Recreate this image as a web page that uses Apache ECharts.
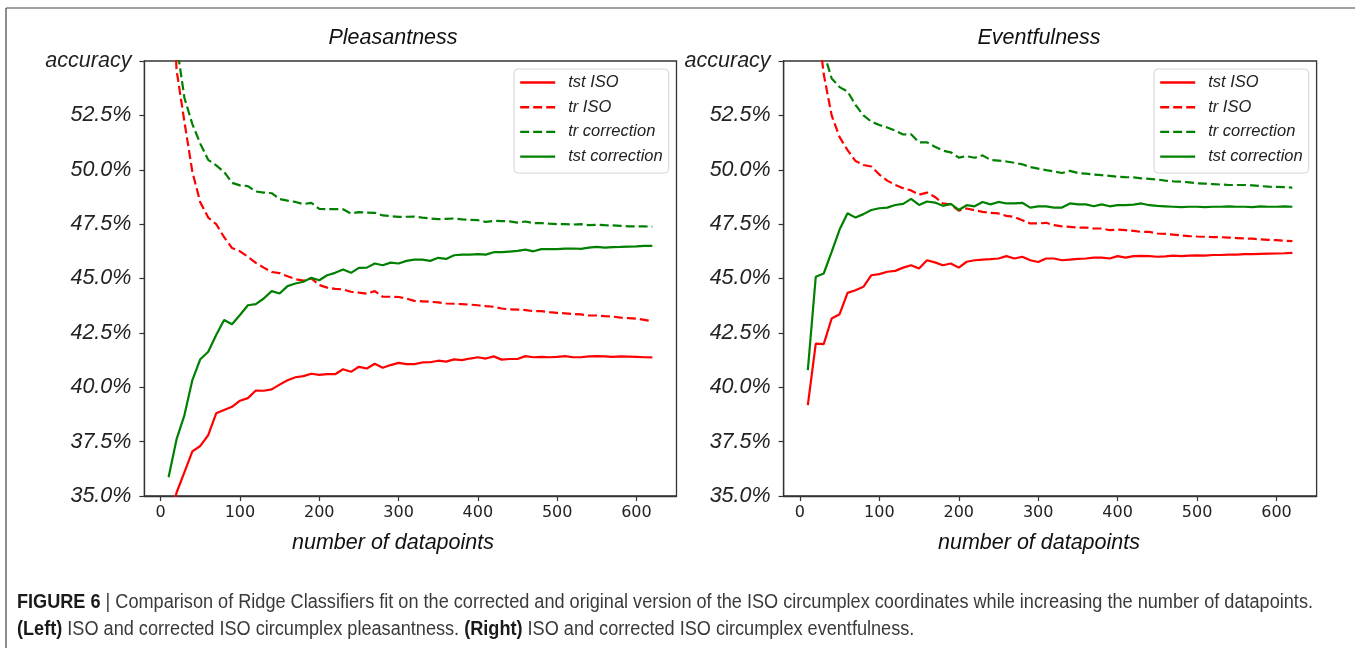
<!DOCTYPE html>
<html><head><meta charset="utf-8">
<script src="https://cdn.jsdelivr.net/npm/echarts@6/dist/echarts.min.js"></script>
<style>html,body{margin:0;padding:0;background:#fff}#c{width:1355px;height:648px}</style>
</head><body><div id="c"></div>
<script>
// ---------------- DATA ----------------
const datapoints = [10,20,30,40,50,60,70,80,90,100,110,120,130,140,150,160,170,180,190,200,
  210,220,230,240,250,260,270,280,290,300,310,320,330,340,350,360,370,380,390,400,
  410,420,430,440,450,460,470,480,490,500,510,520,530,540,550,560,570,580,590,600,610,620];
const xTickValues = [0,100,200,300,400,500,600];
const yTickValues = [35,37.5,40,42.5,45,47.5,50,52.5,55];
const seriesNames = ['tst ISO','tr ISO','tr correction','tst correction'];
const panelTitles = ['Pleasantness','Eventfulness'];

// Pleasantness (left)
const pleasTstISO = [33.5,35.15,36.1,37.05,37.3,37.8,38.8,38.95,39.1,39.38,39.5,39.85,39.84,39.9,40.12,40.32,40.46,40.51,40.62,40.57,
  40.6,40.6,40.83,40.71,40.94,40.86,41.08,40.9,41.02,41.12,41.06,41.06,41.14,41.15,41.22,41.18,41.28,41.25,41.32,41.38,
  41.32,41.42,41.27,41.3,41.3,41.43,41.38,41.4,41.38,41.4,41.43,41.38,41.38,41.42,41.43,41.42,41.4,41.42,41.41,41.4,41.38,41.37];
const pleasTrISO = [64,54.6,52.2,49.9,48.5,47.8,47.5,46.9,46.4,46.25,46.0,45.72,45.5,45.3,45.25,45.1,44.97,44.9,45.0,44.7,
  44.58,44.52,44.5,44.39,44.35,44.3,44.42,44.16,44.16,44.15,44.08,43.97,43.95,43.93,43.9,43.85,43.84,43.82,43.8,43.77,
  43.73,43.7,43.62,43.58,43.57,43.55,43.5,43.5,43.45,43.42,43.4,43.37,43.35,43.3,43.3,43.27,43.25,43.2,43.18,43.15,43.1,43.03];
const pleasTrCorr = [66,55.8,53.3,52.1,51.2,50.45,50.2,49.9,49.4,49.28,49.25,49.0,48.95,48.92,48.65,48.58,48.52,48.42,48.48,48.2,
  48.19,48.19,48.18,47.99,48.05,48.03,48.02,47.9,47.87,47.83,47.84,47.85,47.8,47.76,47.73,47.74,47.76,47.72,47.7,47.68,
  47.6,47.65,47.64,47.63,47.57,47.62,47.55,47.55,47.52,47.5,47.5,47.48,47.5,47.45,47.47,47.45,47.44,47.42,47.4,47.4,47.4,47.38];
const pleasTstCorr = [35.86,37.6,38.72,40.33,41.29,41.63,42.4,43.09,42.9,43.32,43.77,43.82,44.08,44.42,44.31,44.65,44.77,44.85,45.03,44.92,
  45.15,45.26,45.41,45.26,45.49,45.5,45.69,45.61,45.73,45.69,45.81,45.87,45.87,45.81,45.95,45.9,46.07,46.1,46.1,46.12,
  46.1,46.21,46.21,46.24,46.27,46.33,46.25,46.35,46.35,46.35,46.37,46.38,46.36,46.42,46.45,46.42,46.44,46.45,46.47,46.48,46.5,46.5];

// Eventfulness (right)
const eventTstISO = [39.18,42.01,41.98,43.16,43.36,44.34,44.46,44.62,45.15,45.2,45.31,45.35,45.5,45.61,45.46,45.84,45.74,45.61,45.69,45.5,
  45.77,45.84,45.87,45.89,45.92,46.03,45.92,46.0,45.84,45.76,45.92,45.92,45.84,45.87,45.9,45.92,45.96,45.96,45.92,46.03,
  45.96,46.03,46.04,46.03,46.0,46.02,46.05,46.03,46.05,46.06,46.05,46.08,46.08,46.1,46.1,46.12,46.12,46.13,46.14,46.15,46.16,46.18];
const eventTrISO = [64,57.5,54.4,52.5,51.5,50.9,50.4,50.22,50.15,49.78,49.5,49.3,49.15,49.05,48.85,48.95,48.75,48.45,48.4,48.12,
  48.22,48.14,48.06,48.02,47.99,47.88,47.83,47.68,47.53,47.53,47.56,47.45,47.4,47.37,47.34,47.34,47.3,47.3,47.22,47.25,
  47.22,47.19,47.14,47.14,47.07,47.05,47.02,46.98,46.95,46.93,46.92,46.9,46.9,46.88,46.86,46.84,46.83,46.8,46.78,46.76,46.74,46.72];
const eventTrCorr = [62,58,55.4,54.2,53.8,53.6,52.98,52.5,52.21,52.06,51.94,51.8,51.62,51.63,51.26,51.26,51.06,50.88,50.8,50.56,
  50.62,50.55,50.66,50.45,50.42,50.38,50.32,50.25,50.12,50.05,49.98,49.92,49.85,49.95,49.85,49.82,49.78,49.75,49.72,49.68,
  49.66,49.65,49.6,49.58,49.55,49.5,49.47,49.45,49.42,49.38,49.36,49.34,49.32,49.3,49.3,49.3,49.28,49.25,49.22,49.21,49.2,49.18];
const eventTstCorr = [40.79,45.08,45.23,46.22,47.25,48.0,47.8,47.96,48.15,48.23,48.26,48.38,48.43,48.66,48.38,48.54,48.49,48.34,48.43,48.15,
  48.37,48.32,48.52,48.41,48.52,48.45,48.45,48.48,48.26,48.32,48.32,48.26,48.26,48.45,48.41,48.41,48.32,48.41,48.32,48.37,
  48.37,48.4,48.45,48.37,48.34,48.32,48.3,48.28,48.3,48.3,48.28,48.3,48.3,48.32,48.3,48.3,48.28,48.32,48.3,48.3,48.32,48.3];

const captionLine1Bold = 'FIGURE 6';
const captionLine1 = ' | Comparison of Ridge Classifiers fit on the corrected and original version of the ISO circumplex coordinates while increasing the number of datapoints.';
const captionLeftBold = '(Left)';
const captionLeft = ' ISO and corrected ISO circumplex pleasantness. ';
const captionRightBold = '(Right)';
const captionRight = ' ISO and corrected ISO circumplex eventfulness.';

// ---------------- STYLE ----------------
const RED = '#ff0000', GREEN = '#008000';
const SANS = '"Liberation Sans", Arial, sans-serif';
const grids = [
  {left: 144.4, top: 61, width: 532.1, height: 435},
  {left: 783.6, top: 61, width: 533, height: 435}
];
const styles = [
  {color: RED, type: 'solid'},
  {color: RED, type: [9, 4]},
  {color: GREEN, type: [9, 4]},
  {color: GREEN, type: 'solid'}
];
const panels = [
  [pleasTstISO, pleasTrISO, pleasTrCorr, pleasTstCorr],
  [eventTstISO, eventTrISO, eventTrCorr, eventTstCorr]
];

const chart = echarts.init(document.getElementById('c'), null, {renderer: 'canvas'});

const xAxes = [], yAxes = [], series = [], legends = [];
grids.forEach((g, gi) => {
  xAxes.push({
    gridIndex: gi, type: 'value', min: -20.5, max: 650.5,
    axisLine: {show: true, onZero: false, lineStyle: {color: '#333', width: 1.3}},
    axisTick: {show: true, customValues: xTickValues, length: 5, lineStyle: {color: '#333', width: 1.2}},
    axisLabel: {customValues: xTickValues, fontFamily: '"DejaVu Sans", sans-serif', fontSize: 16, color: '#222', margin: 9},
    splitLine: {show: false}
  });
  yAxes.push({
    gridIndex: gi, type: 'value', min: 35, max: 55, interval: 2.5,
    axisLine: {show: true, onZero: false, lineStyle: {color: '#333', width: 1.3}},
    axisTick: {show: true, length: 5, lineStyle: {color: '#333', width: 1.2}},
    axisLabel: {
      fontFamily: SANS, fontStyle: 'italic', fontSize: 21.5, color: '#222', margin: 13,
      formatter: v => (Math.abs(v - 55) < 1e-6 ? 'accuracy' : v.toFixed(1) + '%')
    },
    splitLine: {show: false}
  });
  panels[gi].forEach((arr, si) => {
    series.push({
      name: seriesNames[si], type: 'line', xAxisIndex: gi, yAxisIndex: gi,
      data: datapoints.map((x, i) => [x, arr[i]]),
      symbol: 'none', clip: true, z: 3,
      lineStyle: {color: styles[si].color, type: styles[si].type, width: 2.2},
      itemStyle: {color: styles[si].color}
    });
  });
  legends.push({
    orient: 'vertical', left: gi === 0 ? 514 : 1154, top: 69,
    data: seriesNames, itemWidth: 35, itemHeight: 14, itemGap: 7.7,
    padding: [5, 6, 8, 5],
    backgroundColor: 'rgba(255,255,255,0.85)', borderColor: '#d5d5d5', borderWidth: 1, borderRadius: 4,
    selectedMode: false,
    itemStyle: {opacity: 0},
    lineStyle: {width: 2.4},
    textStyle: {fontFamily: SANS, fontStyle: 'italic', fontSize: 16.5, color: '#222', padding: [0, 0, 0, 8]}
  });
});

// caption: Liberation Sans horizontally condensed to the measured line width
const CAP_SIZE = 19.5;
const ctx = document.createElement('canvas').getContext('2d');
function tw(t, weight) { ctx.font = weight + ' ' + CAP_SIZE + 'px ' + SANS; return ctx.measureText(t).width; }
const capScale = 1296 / (tw(captionLine1Bold, 'bold') + tw(captionLine1, 'normal'));
const capRich = {b: {fontWeight: 'bold', fontFamily: SANS, fontSize: CAP_SIZE, fill: '#1a1a1a'}};

const graphics = [
  {type: 'line', shape: {x1: 6, y1: 8, x2: 1355, y2: 8}, style: {stroke: '#444', lineWidth: 1.2}},
  {type: 'line', shape: {x1: 6, y1: 8, x2: 6, y2: 648}, style: {stroke: '#444', lineWidth: 1.2}},
  {type: 'text', x: 393, y: 38, style: {text: panelTitles[0], font: 'italic 21.5px ' + SANS, fill: '#111', align: 'center', verticalAlign: 'middle'}},
  {type: 'text', x: 1039, y: 38, style: {text: panelTitles[1], font: 'italic 21.5px ' + SANS, fill: '#111', align: 'center', verticalAlign: 'middle'}},
  {type: 'text', x: 393, y: 543, style: {text: 'number of datapoints', font: 'italic 21.5px ' + SANS, fill: '#111', align: 'center', verticalAlign: 'middle'}},
  {type: 'text', x: 1039, y: 543, style: {text: 'number of datapoints', font: 'italic 21.5px ' + SANS, fill: '#111', align: 'center', verticalAlign: 'middle'}},
  {type: 'text', x: 17, y: 603, scaleX: capScale, style: {
    text: '{b|' + captionLine1Bold + '}' + captionLine1,
    font: CAP_SIZE + 'px ' + SANS, fill: '#3a3a3a', align: 'left', verticalAlign: 'middle', rich: capRich
  }},
  {type: 'text', x: 17, y: 630, scaleX: capScale, style: {
    text: '{b|' + captionLeftBold + '}' + captionLeft + '{b|' + captionRightBold + '}' + captionRight,
    font: CAP_SIZE + 'px ' + SANS, fill: '#3a3a3a', align: 'left', verticalAlign: 'middle', rich: capRich
  }}
];

chart.setOption({
  animation: false,
  backgroundColor: '#fff',
  grid: grids.map(g => Object.assign({show: true, borderColor: '#333', borderWidth: 1.3, containLabel: false}, g)),
  xAxis: xAxes, yAxis: yAxes, series: series, legend: legends,
  graphic: graphics
});
</script></body></html>
